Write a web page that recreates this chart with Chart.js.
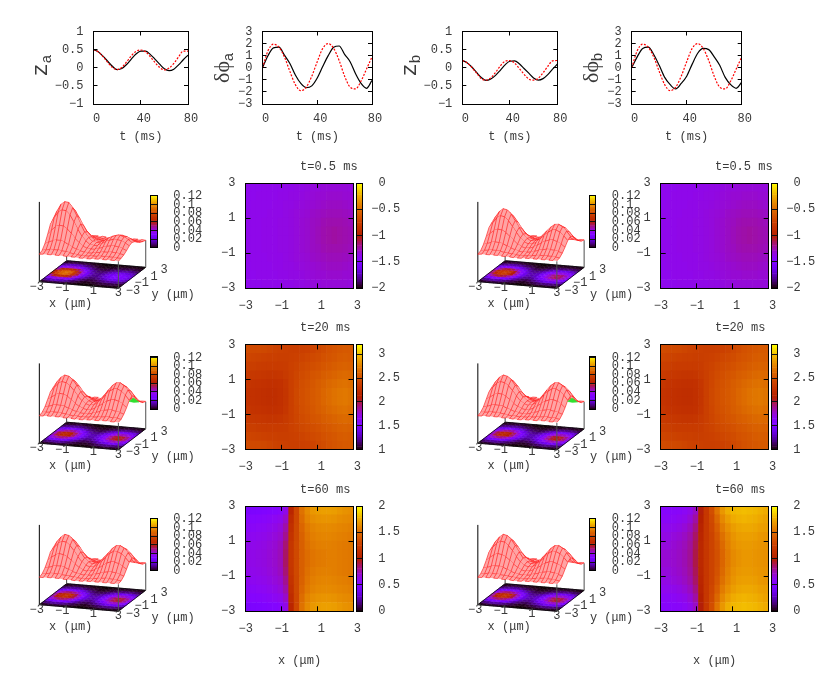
<!DOCTYPE html>
<html><head><meta charset="utf-8">
<style>html,body{margin:0;padding:0;background:#fff;width:830px;height:678px;overflow:hidden}canvas{position:absolute;left:0;top:0}</style>
<script src="https://cdn.jsdelivr.net/npm/chart.js@4"></script>
</head><body>
<script>
const times=[0,4,8,12,16,20,24,28,32,36,40,44,48,52,56,60,64,68,72,76,80];
const zaExp=[.50,.44,.32,.18,.04,-.05,-.02,.09,.24,.38,.46,.46,.37,.24,.10,-.03,-.08,-.04,.08,.22,.35];
const zaSim=[.50,.44,.31,.15,.01,-.05,.01,.16,.33,.45,.49,.44,.31,.15,.01,-.06,-.01,.12,.30,.46,.46];
const phiaExp=[0,1.0,1.65,1.7,1.05,.35,-.6,-1.3,-1.65,-1.5,-.85,.1,1.0,1.7,1.8,1.1,.5,-.5,-1.3,-1.7,-1.05];
const phiaSim=[0,1.4,1.95,1.7,.9,-.3,-1.4,-1.9,-1.6,-.7,.5,1.6,2.0,1.6,.6,-.7,-1.6,-1.75,-1.1,-.1,.9];
const zbExp=[.20,.14,.02,-.13,-.27,-.35,-.31,-.21,-.07,.08,.18,.19,.11,-.02,-.15,-.28,-.34,-.30,-.19,-.04,.10];
const zbSim=[.20,.14,.01,-.15,-.30,-.34,-.28,-.13,.05,.18,.20,.13,-.02,-.18,-.31,-.34,-.29,-.14,.04,.19,.20];
const phibExp=[0,.9,1.6,1.7,1.1,.2,-.8,-1.4,-1.75,-1.3,-.7,.3,1.2,1.6,1.5,.9,.2,-.8,-1.4,-1.7,-1.2];
const phibSim=[0,1.4,1.95,1.7,.9,-.3,-1.4,-1.9,-1.6,-.7,.5,1.6,2.0,1.6,.6,-.7,-1.6,-1.75,-1.1,-.1,.9];

// density surfaces (x 10^-3), rows y=-3..3, columns x=-3..3
const gridX=[-3,-2.7,-2.4,-2.1,-1.8,-1.5,-1.2,-.9,-.6,-.3,0,.3,.6,.9,1.2,1.5,1.8,2.1,2.4,2.7,3];
const gridY=[-3,-2.4,-1.8,-1.2,-.6,0,.6,1.2,1.8,2.4,3];
const densA05=[
[1,2,2,2,2,2,2,1,1,1,0,0,0,0,1,1,1,1,1,1,0],
[5,7,9,9,9,8,7,5,3,2,1,1,1,2,2,3,3,3,3,2,2],
[15,20,24,26,26,23,18,13,9,6,4,3,3,5,6,8,8,9,8,7,5],
[31,42,51,55,54,48,39,28,19,12,8,7,7,10,13,16,18,18,17,14,10],
[49,66,79,85,84,75,60,44,29,19,12,10,11,16,21,25,28,28,26,22,16],
[57,76,92,99,98,87,70,51,34,22,14,12,13,18,24,29,32,33,30,25,19],
[49,66,79,85,84,75,60,44,29,19,12,10,11,16,21,25,28,28,26,22,16],
[31,42,51,55,54,48,39,28,19,12,8,7,7,10,13,16,18,18,17,14,10],
[15,20,24,26,26,23,18,13,9,6,4,3,3,5,6,8,8,9,8,7,5],
[5,7,9,9,9,8,7,5,3,2,1,1,1,2,2,3,3,3,3,2,2],
[1,2,2,2,2,2,2,1,1,1,0,0,0,0,1,1,1,1,1,1,0]];
const densB05=[
[1,2,2,2,2,2,1,1,1,0,0,0,1,1,1,1,1,1,1,1,1],
[4,6,7,8,8,7,5,4,3,2,1,1,2,3,4,5,5,5,5,4,3],
[13,17,20,22,21,19,15,11,8,5,4,4,6,8,11,13,15,15,14,12,9],
[26,35,42,46,45,40,32,24,16,11,8,9,12,17,23,28,31,32,29,24,18],
[41,54,66,72,70,62,50,37,25,17,13,14,18,27,35,43,49,50,46,38,28],
[48,63,76,83,81,72,58,43,29,20,15,16,21,31,41,50,57,58,53,44,33],
[41,54,66,72,70,62,50,37,25,17,13,14,18,27,35,43,49,50,46,38,28],
[26,35,42,46,45,40,32,24,16,11,8,9,12,17,23,28,31,32,29,24,18],
[13,17,20,22,21,19,15,11,8,5,4,4,6,8,11,13,15,15,14,12,9],
[4,6,7,8,8,7,5,4,3,2,1,1,2,3,4,5,5,5,5,4,3],
[1,2,2,2,2,2,1,1,1,0,0,0,1,1,1,1,1,1,1,1,1]];
const dens20=[
[1,1,2,2,2,2,1,1,1,0,0,0,1,1,1,1,2,2,1,1,1],
[4,5,6,7,7,6,5,3,2,2,1,2,2,3,4,5,6,6,5,5,3],
[11,14,17,19,18,17,13,10,7,5,4,4,6,9,12,15,17,17,15,13,10],
[23,30,36,40,39,35,28,20,14,10,8,9,13,19,25,31,35,36,33,28,20],
[35,47,57,62,60,54,44,32,22,16,13,15,21,29,40,49,55,56,51,43,32],
[41,55,66,72,70,63,51,37,26,18,15,17,24,34,46,57,64,65,59,50,37],
[35,47,57,62,60,54,44,32,22,16,13,15,21,29,40,49,55,56,51,43,32],
[23,30,36,40,39,35,28,20,14,10,8,9,13,19,25,31,35,36,33,28,20],
[11,14,17,19,18,17,13,10,7,5,4,4,6,9,12,15,17,17,15,13,10],
[4,5,6,7,7,6,5,3,2,2,1,2,2,3,4,5,6,6,5,5,3],
[1,1,2,2,2,2,1,1,1,0,0,0,1,1,1,1,2,2,1,1,1]];
const dens60=[
[1,1,2,2,2,2,1,1,1,0,0,0,1,1,1,1,1,1,1,1,1],
[4,5,7,7,7,6,5,4,3,2,1,1,2,3,4,5,6,6,5,4,3],
[12,15,18,20,20,18,14,10,7,5,4,4,6,9,11,14,16,16,15,12,9],
[24,33,39,43,41,37,30,22,15,10,8,9,13,18,24,30,34,34,31,26,20],
[38,51,60,66,65,58,47,34,23,16,13,14,20,28,37,47,53,53,49,41,31],
[44,59,70,77,75,67,54,40,27,19,15,16,23,33,43,54,61,62,57,47,36],
[38,51,60,66,65,58,47,34,23,16,13,14,20,28,37,47,53,53,49,41,31],
[24,33,39,43,41,37,30,22,15,10,8,9,13,18,24,30,34,34,31,26,20],
[12,15,18,20,20,18,14,10,7,5,4,4,6,9,11,14,16,16,15,12,9],
[4,5,7,7,7,6,5,4,3,2,1,1,2,3,4,5,6,6,5,4,3],
[1,1,2,2,2,2,1,1,1,0,0,0,1,1,1,1,1,1,1,1,1]];
// underside patch of the t=20 surface: x, y, z(x10^-3)
const patchX=[3,3,3,3], patchY=[-.66,.33,1.54,.44], patchZ=[30,30,11,19];

// phase maps, rows y=-3..3 (bottom to top), columns x=-3..3
const cellX=[-2.85,-2.55,-2.25,-1.95,-1.65,-1.35,-1.05,-.75,-.45,-.15,.15,.45,.75,1.05,1.35,1.65,1.95,2.25,2.55,2.85];
const cellY=[-2.75,-2.25,-1.75,-1.25,-.75,-.25,.25,.75,1.25,1.75,2.25,2.75];
const phi05=[
[-1.38,-1.38,-1.38,-1.37,-1.37,-1.37,-1.37,-1.36,-1.36,-1.35,-1.35,-1.34,-1.33,-1.33,-1.32,-1.32,-1.32,-1.32,-1.32,-1.33],
[-1.38,-1.38,-1.37,-1.37,-1.37,-1.37,-1.36,-1.36,-1.35,-1.35,-1.34,-1.33,-1.32,-1.31,-1.31,-1.30,-1.30,-1.30,-1.31,-1.31],
[-1.38,-1.37,-1.37,-1.37,-1.37,-1.36,-1.36,-1.35,-1.35,-1.34,-1.33,-1.32,-1.31,-1.30,-1.29,-1.28,-1.28,-1.28,-1.29,-1.30],
[-1.37,-1.37,-1.37,-1.37,-1.36,-1.36,-1.36,-1.35,-1.34,-1.33,-1.32,-1.31,-1.29,-1.28,-1.27,-1.26,-1.26,-1.26,-1.27,-1.28],
[-1.37,-1.37,-1.37,-1.36,-1.36,-1.36,-1.35,-1.35,-1.34,-1.33,-1.31,-1.30,-1.28,-1.27,-1.25,-1.24,-1.24,-1.24,-1.25,-1.26],
[-1.37,-1.37,-1.37,-1.36,-1.36,-1.36,-1.35,-1.35,-1.34,-1.33,-1.31,-1.30,-1.28,-1.26,-1.24,-1.23,-1.22,-1.23,-1.24,-1.25],
[-1.37,-1.37,-1.37,-1.36,-1.36,-1.36,-1.35,-1.35,-1.34,-1.33,-1.31,-1.30,-1.28,-1.26,-1.24,-1.23,-1.22,-1.23,-1.24,-1.25],
[-1.37,-1.37,-1.37,-1.36,-1.36,-1.36,-1.35,-1.35,-1.34,-1.33,-1.31,-1.30,-1.28,-1.27,-1.25,-1.24,-1.24,-1.24,-1.25,-1.26],
[-1.37,-1.37,-1.37,-1.37,-1.36,-1.36,-1.36,-1.35,-1.34,-1.33,-1.32,-1.31,-1.29,-1.28,-1.27,-1.26,-1.26,-1.26,-1.27,-1.28],
[-1.38,-1.37,-1.37,-1.37,-1.37,-1.36,-1.36,-1.35,-1.35,-1.34,-1.33,-1.32,-1.31,-1.30,-1.29,-1.28,-1.28,-1.28,-1.29,-1.30],
[-1.38,-1.38,-1.37,-1.37,-1.37,-1.37,-1.36,-1.36,-1.35,-1.35,-1.34,-1.33,-1.32,-1.31,-1.31,-1.30,-1.30,-1.30,-1.31,-1.31],
[-1.38,-1.38,-1.38,-1.37,-1.37,-1.37,-1.37,-1.36,-1.36,-1.35,-1.35,-1.34,-1.33,-1.33,-1.32,-1.32,-1.32,-1.32,-1.32,-1.33]];
const phi20=[
[2.46,2.45,2.45,2.44,2.42,2.40,2.39,2.38,2.37,2.37,2.38,2.39,2.41,2.44,2.47,2.50,2.52,2.54,2.55,2.55],
[2.42,2.41,2.40,2.39,2.38,2.38,2.37,2.37,2.38,2.39,2.41,2.43,2.45,2.47,2.50,2.52,2.54,2.56,2.57,2.56],
[2.38,2.37,2.36,2.35,2.35,2.35,2.35,2.36,2.39,2.41,2.44,2.46,2.48,2.50,2.53,2.55,2.57,2.59,2.60,2.59],
[2.34,2.33,2.32,2.31,2.30,2.30,2.31,2.34,2.38,2.42,2.46,2.49,2.52,2.54,2.57,2.59,2.61,2.63,2.64,2.63],
[2.31,2.29,2.28,2.27,2.26,2.26,2.27,2.31,2.38,2.43,2.48,2.51,2.54,2.57,2.60,2.63,2.65,2.67,2.68,2.66],
[2.29,2.27,2.26,2.25,2.24,2.24,2.26,2.30,2.38,2.44,2.49,2.52,2.55,2.58,2.62,2.65,2.68,2.70,2.71,2.69],
[2.29,2.27,2.26,2.25,2.24,2.24,2.26,2.30,2.38,2.44,2.49,2.52,2.55,2.58,2.62,2.65,2.68,2.70,2.71,2.69],
[2.31,2.29,2.28,2.27,2.26,2.26,2.27,2.31,2.38,2.43,2.48,2.51,2.54,2.57,2.60,2.63,2.65,2.67,2.68,2.66],
[2.34,2.33,2.32,2.31,2.30,2.30,2.31,2.34,2.38,2.42,2.46,2.49,2.52,2.54,2.57,2.59,2.61,2.63,2.64,2.63],
[2.38,2.37,2.36,2.35,2.35,2.35,2.35,2.36,2.39,2.41,2.44,2.46,2.48,2.50,2.53,2.55,2.57,2.59,2.60,2.59],
[2.42,2.41,2.40,2.39,2.38,2.38,2.37,2.37,2.38,2.39,2.41,2.43,2.45,2.47,2.50,2.52,2.54,2.56,2.57,2.56],
[2.46,2.45,2.45,2.44,2.42,2.40,2.39,2.38,2.37,2.37,2.38,2.39,2.41,2.44,2.47,2.50,2.52,2.54,2.55,2.55]];
const phi60a=[
[.48,.48,.49,.50,.52,.53,.55,.64,1.06,1.30,1.53,1.63,1.68,1.70,1.71,1.71,1.70,1.68,1.66,1.65],
[.54,.54,.55,.56,.58,.60,.62,.71,1.11,1.30,1.50,1.60,1.64,1.66,1.67,1.67,1.66,1.64,1.63,1.62],
[.58,.58,.59,.60,.62,.64,.67,.77,1.15,1.31,1.47,1.56,1.60,1.62,1.63,1.63,1.62,1.61,1.60,1.59],
[.61,.61,.62,.63,.65,.67,.70,.81,1.17,1.31,1.45,1.54,1.58,1.60,1.61,1.61,1.60,1.59,1.58,1.57],
[.63,.63,.64,.65,.67,.69,.73,.85,1.19,1.32,1.44,1.52,1.56,1.58,1.59,1.59,1.58,1.57,1.56,1.55],
[.64,.64,.65,.66,.68,.70,.74,.87,1.20,1.32,1.44,1.50,1.54,1.56,1.57,1.58,1.58,1.57,1.56,1.55],
[.64,.64,.65,.66,.68,.70,.74,.87,1.20,1.32,1.44,1.50,1.54,1.56,1.57,1.58,1.58,1.57,1.56,1.55],
[.63,.63,.64,.65,.67,.69,.73,.85,1.19,1.32,1.44,1.52,1.56,1.58,1.59,1.59,1.58,1.57,1.56,1.55],
[.61,.61,.62,.63,.65,.67,.70,.81,1.17,1.31,1.45,1.54,1.58,1.60,1.61,1.61,1.60,1.59,1.58,1.57],
[.58,.58,.59,.60,.62,.64,.67,.77,1.15,1.31,1.47,1.56,1.60,1.62,1.63,1.63,1.62,1.61,1.60,1.59],
[.54,.54,.55,.56,.58,.60,.62,.71,1.11,1.30,1.50,1.60,1.64,1.66,1.67,1.67,1.66,1.64,1.63,1.62],
[.48,.48,.49,.50,.52,.53,.55,.64,1.06,1.30,1.53,1.63,1.68,1.70,1.71,1.71,1.70,1.68,1.66,1.65]];
const phi60b=[
[.55,.55,.56,.57,.59,.63,.72,.99,1.20,1.35,1.54,1.68,1.76,1.79,1.80,1.81,1.80,1.79,1.77,1.75],
[.58,.58,.59,.61,.63,.68,.78,1.01,1.20,1.32,1.48,1.62,1.70,1.75,1.77,1.78,1.77,1.76,1.74,1.72],
[.62,.62,.63,.65,.68,.73,.83,1.04,1.20,1.30,1.43,1.57,1.65,1.70,1.73,1.74,1.74,1.73,1.71,1.70],
[.65,.65,.67,.69,.72,.77,.87,1.06,1.20,1.28,1.39,1.52,1.61,1.67,1.70,1.71,1.71,1.70,1.68,1.67],
[.67,.67,.69,.71,.74,.79,.89,1.08,1.20,1.28,1.37,1.49,1.59,1.65,1.68,1.69,1.69,1.68,1.67,1.66],
[.69,.69,.70,.72,.75,.80,.91,1.09,1.20,1.28,1.36,1.47,1.57,1.63,1.66,1.68,1.68,1.67,1.66,1.65],
[.69,.69,.70,.72,.75,.80,.91,1.09,1.20,1.28,1.36,1.47,1.57,1.63,1.66,1.68,1.68,1.67,1.66,1.65],
[.67,.67,.69,.71,.74,.79,.89,1.08,1.20,1.28,1.37,1.49,1.59,1.65,1.68,1.69,1.69,1.68,1.67,1.66],
[.65,.65,.67,.69,.72,.77,.87,1.06,1.20,1.28,1.39,1.52,1.61,1.67,1.70,1.71,1.71,1.70,1.68,1.67],
[.62,.62,.63,.65,.68,.73,.83,1.04,1.20,1.30,1.43,1.57,1.65,1.70,1.73,1.74,1.74,1.73,1.71,1.70],
[.58,.58,.59,.61,.63,.68,.78,1.01,1.20,1.32,1.48,1.62,1.70,1.75,1.77,1.78,1.77,1.76,1.74,1.72],
[.55,.55,.56,.57,.59,.63,.72,.99,1.20,1.35,1.54,1.68,1.76,1.79,1.80,1.81,1.80,1.79,1.77,1.75]];
const densTicks=.02, densMax=.122;

const PAGE_W=830, PAGE_H=678, INK='#3a3a3a', MONO='"Liberation Mono"';
Chart.defaults.font.family=MONO; Chart.defaults.font.size=12; Chart.defaults.color=INK;
Chart.defaults.animation=false;

function pm3d(g){g=Math.min(1,Math.max(0,g));
  const b=Math.max(0,Math.sin(2*Math.PI*g));
  return `rgb(${Math.round(255*Math.sqrt(g))},${Math.round(255*g*g*g)},${Math.round(255*b)})`;}
const fmt=v=>String(+(+v).toFixed(3)).replace('-','\u2212');

const pageText={id:'pageText',afterDraw(chart){
  const items=chart.options.plugins.pageText&&chart.options.plugins.pageText.items;if(!items)return;
  const c=chart.ctx;items.forEach(t=>{c.save();c.translate(t.x,t.y);if(t.rot)c.rotate(t.rot);
    c.font=t.font||`12px ${MONO}`;c.fillStyle=INK;c.textAlign=t.align||'center';c.textBaseline='middle';
    c.fillText(t.t,0,0);c.restore();});}};

function make(type,datasets,rect,W,H,scales,items,extra){
  const cv=document.createElement('canvas');cv.width=PAGE_W;cv.height=PAGE_H;document.body.appendChild(cv);
  return new Chart(cv,Object.assign({type,data:{datasets},plugins:[pageText],options:{
    responsive:false,devicePixelRatio:1,events:[],
    layout:{padding:{left:rect.l-W,right:PAGE_W-rect.r-(rect.rw||0),top:rect.t,bottom:PAGE_H-rect.b-H}},
    scales,plugins:{legend:{display:false},tooltip:{enabled:false},pageText:{items:items||[]}},...(extra||{})}}));
}
function edge(pos,min,max,step,o){o=o||{};const horiz=pos==='bottom'||pos==='top';
  const main=pos==='bottom'||pos==='left';
  return {type:'linear',position:pos,min,max,offset:false,
    ticks:{display:main&&!o.noLabels,stepSize:step,autoSkip:false,maxRotation:0,includeBounds:false,callback:fmt,
      padding:o.pad||15,align:horiz?o.align||'center':undefined,labelOffset:horiz?o.lo||0:0},
    grid:{offset:false,drawOnChartArea:false,drawTicks:!!o.tl,tickLength:-(o.tl||0),tickColor:'#000',tickWidth:1,z:1},
    border:{color:'#000',width:1,z:2},
    title:o.title?{display:true,text:o.title,padding:0}:{display:false},
    afterFit:s=>{if(horiz)s.height=main?o.size:0;else s.width=main?o.size:0;}};
}
function linePanel(rect,exp,sim,yMax,yStep,sub,isPhi,labelX){
  const pts=a=>a.map((v,i)=>({x:times[i],y:v}));
  const H=40,W=60;
  const lb=isPhi?{t:'\u03b4\u03d5',font:`22px "Liberation Serif"`,y:72,sy:57}:{t:'z',font:`22px ${MONO}`,y:70,sy:59};
  make('line',[
    {data:pts(sim),borderColor:'#ff0000',borderWidth:1.2,borderDash:[2,1.5],pointRadius:0,cubicInterpolationMode:'monotone'},
    {data:pts(exp),borderColor:'#000',borderWidth:1.2,pointRadius:0,cubicInterpolationMode:'monotone'}],
    rect,W,H,{
    x:edge('bottom',0,80,40,{tl:4,pad:12,lo:3,size:H,title:'t (ms)'}),
    x2:edge('top',0,80,40,{tl:4,size:0}),
    y:edge('left',-yMax,yMax,yStep,{tl:4,pad:14,size:W}),
    y2:edge('right',-yMax,yMax,yStep,{tl:4,size:0})},
    [{t:lb.t,x:labelX,y:lb.y,font:lb.font,rot:-Math.PI/2},
     {t:sub,x:labelX+6,y:lb.sy,font:`15px ${MONO}`,rot:-Math.PI/2}]);
}
function colorbar(rect,min,max,step,pad,W,labelFn){
  const n=64,d=(max-min)/n,ys=[],cols=[];
  for(let i=0;i<n;i++){ys.push({y:min+(i+.5)*d,x:[0,1]});cols.push(pm3d((i+.5)/n));}
  const y=edge('right',min,max,step,{size:W,pad});
  y.ticks.display=true;y.ticks.callback=labelFn||fmt;
  y.grid={offset:false,drawOnChartArea:true,drawTicks:false,color:'#111',lineWidth:1,z:1};
  y.afterFit=s=>{s.width=W;};
  make('bar',[{data:ys,backgroundColor:cols,borderWidth:0,categoryPercentage:1,barPercentage:1,grouped:false}],
    Object.assign({rw:W},rect),0,0,{
    x:Object.assign(edge('bottom',0,1,1,{size:0,noLabels:true}),{grid:{display:false}}),
    xTop:{axis:'x',type:'linear',position:'top',min:0,max:1,ticks:{display:false},grid:{display:false},border:{color:'#000',z:2},afterFit:s=>{s.height=0;}},
    y,
    yLeft:{axis:'y',type:'linear',position:'left',min,max,ticks:{display:false},grid:{display:false},border:{color:'#000',z:2},afterFit:s=>{s.width=0;}}},
    [],{indexAxis:'y'});
}
function heatPanel(rect,cbRect,matrix,cbMin,cbMax,title,titleX,titleY,xTitle){
  const H=xTitle?57:30,W=60;
  const dh=cellY[1]-cellY[0];
  const ds=matrix.map((row,j)=>({
    data:row.map((v,i)=>({x:cellX[i],y:[cellY[j]-dh/2,cellY[j]+dh/2]})),
    backgroundColor:row.map(v=>pm3d((v-cbMin)/(cbMax-cbMin))),
    borderWidth:0,categoryPercentage:1,barPercentage:1,grouped:false}));
  const o={tl:5,pad:15,align:'end',lo:7.5,size:H};if(xTitle)o.title=xTitle;
  make('bar',ds,rect,W,H,{
    x:edge('bottom',-3,3,2,o),
    x2:edge('top',-3,3,2,{tl:5,size:0}),
    y:edge('left',-3,3,2,{tl:5,pad:15,size:W}),
    y2:edge('right',-3,3,2,{tl:5,size:0})},
    [{t:title,x:titleX,y:titleY,align:'left'}]);
  const neg=cbMin<0;
  colorbar(cbRect,cbMin,cbMax,.5,neg?9:16,50,neg?(v=>v<0?fmt(v):' '+fmt(v)):fmt);
}
// oblique view of the gnuplot surface
const UX=13.17,UY=4.55,VX=-1.1,VY=3.5,LIFT=27,VZ=.44;
const pr=(x,y,z)=>({x:UX*x+UY*y,y:VX*x+VY*y+(z===null?0:LIFT+VZ*z)});
function surfacePanel(dx,dy,dens,withPatch){
  const cx=92.5+dx,cy=274.5+dy;
  const rect={l:cx-60,r:cx+70,t:cy-100,b:cy+20};
  const ds=[];const xs=gridX,ys=gridY;const nx=xs.length,ny=ys.length;
  const poly=(pts,color)=>({data:pts,showLine:true,pointRadius:0,fill:'shape',backgroundColor:color,borderColor:color,borderWidth:.5,borderJoinStyle:'round'});
  for(let j=0;j<ny-1;j++)for(let i=0;i<nx-1;i++){
    const a=(dens[j][i]+dens[j][i+1]+dens[j+1][i]+dens[j+1][i+1])/4/1000;
    ds.push(poly([pr(xs[i],ys[j],null),pr(xs[i+1],ys[j],null),pr(xs[i+1],ys[j+1],null),pr(xs[i],ys[j+1],null),pr(xs[i],ys[j],null)],pm3d(a/densMax)));}
  const stroke=(pts,c,w)=>({data:pts,showLine:true,pointRadius:0,fill:false,borderColor:c,borderWidth:w,borderJoinStyle:'round'});
  ds.push(stroke([pr(-3,-3,null),pr(3,-3,null),pr(3,3,null),pr(-3,3,null),pr(-3,-3,null)],'#000',.8));
  ds.push(stroke([pr(-3,3,null),pr(-3,3,0)],'#444',1));
  ds.push(stroke([pr(3,3,null),pr(3,3,0)],'#777',1.3));
  ds.push(stroke([pr(3,-3,null),pr(3,-3,0)],'#555',1));
  ds.push(stroke([pr(-3,-3,null),pr(-3,-3,120)],'#000',1));
  for(let j=ny-2;j>=0;j--){
    const strip=[],snake=[];
    for(let i=0;i<nx;i++)strip.push(pr(xs[i],ys[j],dens[j][i]));
    for(let i=nx-1;i>=0;i--)strip.push(pr(xs[i],ys[j+1],dens[j+1][i]));
    ds.push({data:strip,showLine:true,pointRadius:0,fill:'shape',backgroundColor:'#ffa4a4',borderWidth:0});
    for(let i=0;i<nx;i++){
      const A=pr(xs[i],ys[j],dens[j][i]),B=pr(xs[i],ys[j+1],dens[j+1][i]);
      if(i%2===0){snake.push(B,A);}else{snake.push(A,B);}
    }
    ds.push(stroke(snake,'#ff1010',.6));
  }
  if(withPatch){const p=patchX.map((x,i)=>pr(x,patchY[i],patchZ[i]));p.push(p[0]);ds.push(poly(p,'#30e030'));}
  ds.reverse();
  const at=(t,x,y)=>({t,x:x+dx,y:y+dy});
  const items=[
    at('\u22123',36.7,12.2+274.5),at('\u22121',62.3,13.8+274.5),at('1',93.3,16.2+274.5),at('3',118.3,18.8+274.5),
    at('\u22123',133,16.2+274.5),at('\u22121',141.7,8.8+274.5),at('1',154,2.2+274.5),at('3',164,-4.5+274.5),
    at('x (\u03bcm)',70.7,29.8+274.5),at('y (\u03bcm)',173,20.5+274.5)];
  make('scatter',ds,rect,0,0,{
    x:{type:'linear',display:false,min:-60,max:70},
    y:{type:'linear',display:false,min:-20,max:100}},items);
  colorbar({l:150.7+dx,r:157.3+dx,t:195+dy,b:247.7+dy},0,densMax,densTicks,16,50);
}

// top row
const TT=31.5,TB=104;
linePanel({l:93.5,r:188,t:TT,b:TB},zaExp,zaSim,1,.5,'a',false,41);
linePanel({l:262.5,r:372,t:TT,b:TB},phiaExp,phiaSim,3,1,'a',true,223);
linePanel({l:462.3,r:557.3,t:TT,b:TB},zbExp,zbSim,1,.5,'b',false,410);
linePanel({l:631.7,r:741.7,t:TT,b:TB},phibExp,phibSim,3,1,'b',true,592);

// rows of 3D surface + phase map
const rows=[
 {dy:0,L:densA05,R:densB05,pa:phi05,pb:phi05,min:-2,max:0,title:'t=0.5 ms',green:false},
 {dy:161.5,L:dens20,R:dens20,pa:phi20,pb:phi20,min:1,max:3.2,title:'t=20 ms',green:true},
 {dy:323,L:dens60,R:dens60,pa:phi60a,pb:phi60b,min:0,max:2,title:'t=60 ms',green:false}];
rows.forEach((r,k)=>{
  const last=k===2, T=183+r.dy,B=288.3+r.dy;
  surfacePanel(0,r.dy,r.L,r.green);
  surfacePanel(438.5,r.dy,r.R,r.green);
  heatPanel({l:245.5,r:353.5,t:T,b:B},{l:356.5,r:362.3,t:T,b:B},r.pa,r.min,r.max,r.title,300,166.7+r.dy,last?'x (\u03bcm)':null);
  heatPanel({l:660.7,r:768.7,t:T,b:B},{l:771.5,r:777.3,t:T,b:B},r.pb,r.min,r.max,r.title,715,166.7+r.dy,last?'x (\u03bcm)':null);
});
</script>
</body></html>
